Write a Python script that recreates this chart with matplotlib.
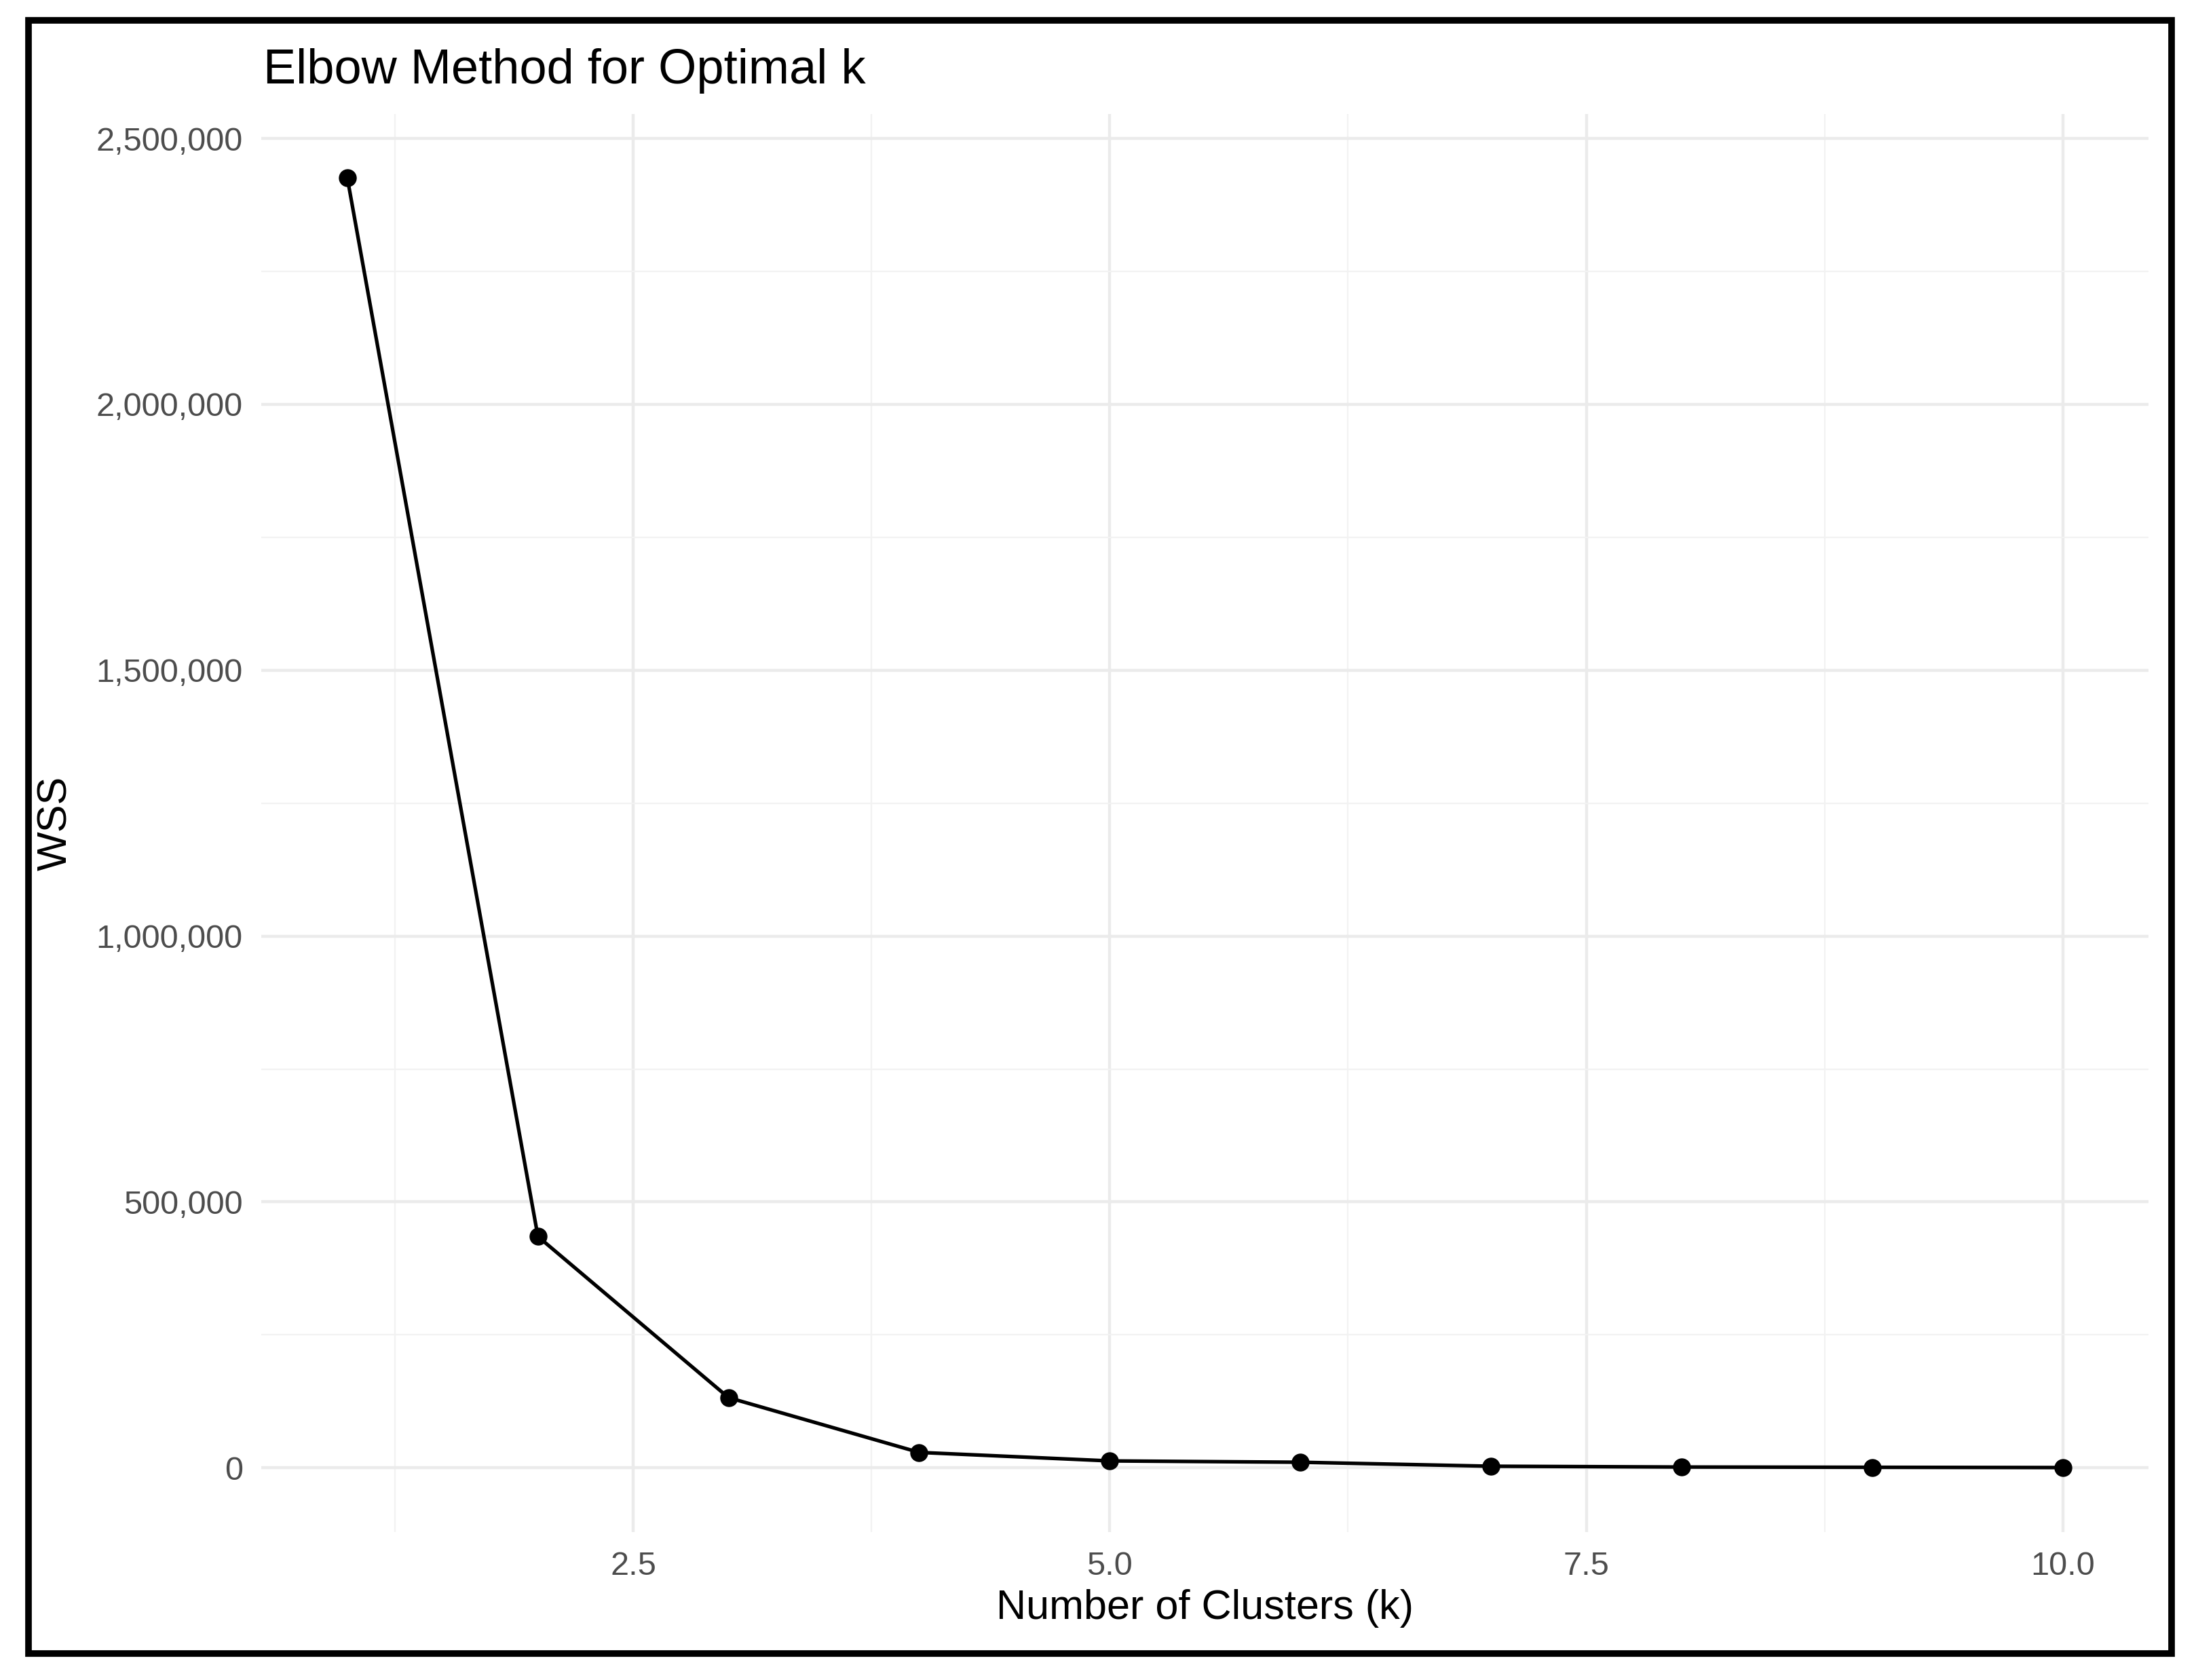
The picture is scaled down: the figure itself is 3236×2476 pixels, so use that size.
import matplotlib
matplotlib.use("Agg")
import matplotlib.pyplot as plt
from matplotlib.patches import Rectangle
from matplotlib.ticker import MultipleLocator, StrMethodFormatter

# Elbow curve values
k_values = [1, 2, 3, 4, 5, 6, 7, 8, 9, 10]
wss = [2426000, 435000, 132000, 29000, 13000, 10500, 3000, 1500, 1000, 500]

plt.rcParams["font.family"] = ["Liberation Sans", "DejaVu Sans"]

fig = plt.figure(figsize=(32.36, 24.76), dpi=100)
ax = fig.add_axes([0.1191, 0.0880, 0.8593, 0.8441])

# ggplot-like minimal theme
ax.set_facecolor("white")
for side in ax.spines.values():
    side.set_visible(False)

ax.xaxis.set_major_locator(MultipleLocator(2.5))
ax.xaxis.set_minor_locator(MultipleLocator(1.25))
ax.yaxis.set_major_locator(MultipleLocator(500000))
ax.yaxis.set_minor_locator(MultipleLocator(250000))
ax.grid(which="major", color="#EBEBEB", linewidth=3.2)
ax.grid(which="minor", color="#F2F2F2", linewidth=1.6)
ax.set_axisbelow(True)

ax.plot(k_values, wss, color="black", linewidth=3.8, marker="o",
        markersize=18, zorder=3)

ax.set_xlim(0.55, 10.45)
ax.set_ylim(-121000, 2546000)
ax.yaxis.set_major_formatter(StrMethodFormatter("{x:,.0f}"))
ax.xaxis.set_major_formatter(StrMethodFormatter("{x:.1f}"))

ax.tick_params(which="both", length=0, labelsize=35, labelcolor="#4D4D4D")
ax.tick_params(axis="y", pad=20)
ax.tick_params(axis="x", pad=20)

ax.set_xlabel("Number of Clusters (k)", fontsize=44, labelpad=8)
ax.set_ylabel("WSS", fontsize=44, labelpad=22)

fig.text(0.1199, 0.9503, "Elbow Method for Optimal k", fontsize=52,
         ha="left", va="baseline")

# black frame around the whole picture
fig.patches.append(Rectangle((0.0130, 0.0157), 0.9760, 0.9720,
                             transform=fig.transFigure, fill=False,
                             edgecolor="black", linewidth=7))

fig.savefig("out.png", dpi=100)
